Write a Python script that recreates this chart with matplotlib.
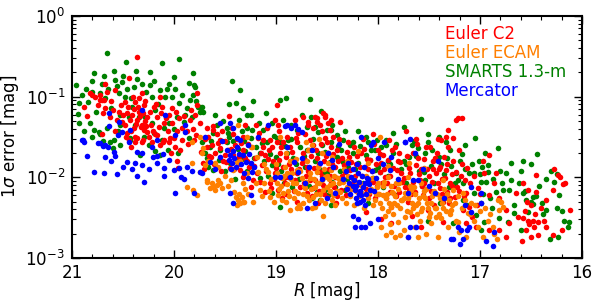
import matplotlib
matplotlib.use("Agg")
import matplotlib.pyplot as plt
from matplotlib.ticker import LogLocator, MultipleLocator, NullFormatter

# ---- data: (R magnitude, 1-sigma error in mag) ----
euler_c2 = [
(20.36,0.31),(20.68,0.144),(20.8,0.105),(20.44,0.17),(20.31,0.111),(20.73,0.091),(20.69,0.091),(20.58,0.12),
(20.48,0.086),(20.34,0.096),(20.29,0.079),(20.34,0.065),(20.46,0.063),(20.43,0.051),(20.48,0.045),(20.39,0.041),
(20.38,0.032),(20.29,0.039),(20.26,0.056),(20.24,0.065),(20.2,0.074),(20.17,0.056),(20.12,0.074),(20.14,0.099),
(20.02,0.072),(20.05,0.059),(20.1,0.047),(20.02,0.047),(19.95,0.054),(19.92,0.041),(19.97,0.037),(19.87,0.037),
(19.84,0.051),(19.77,0.111),(19.77,0.079),(19.79,0.059),(19.75,0.047),(20.31,0.045),(20.25,0.032),(20.19,0.034),
(20.1,0.029),(20.05,0.027),(20.0,0.031),(19.92,0.029),(19.8,0.029),(20.71,0.034),(20.73,0.105),(20.68,0.072),
(20.63,0.056),(20.54,0.065),(20.51,0.048),(20.58,0.037),(20.44,0.029),(20.31,0.027),(20.22,0.027),(20.77,0.099),
(20.66,0.114),(20.82,0.11),(20.46,0.035),(20.36,0.031),(20.3,0.029),(20.17,0.033),(20.11,0.027),(20.04,0.031),
(19.99,0.024),(20.14,0.025),(20.38,0.027),(19.97,0.016),(19.96,0.013),(20.4,0.1),(20.38,0.085),(20.35,0.075),
(20.33,0.058),(20.28,0.05),(20.27,0.043),(20.41,0.06),(20.39,0.07),(20.36,0.052),(20.32,0.042),(20.26,0.036),
(20.42,0.038),(20.71,0.091),(19.62,0.043),
(20.88,0.075),(20.85,0.058),(20.75,0.078),(20.7,0.062),(20.62,0.088),(20.6,0.068),(20.56,0.052),(20.52,0.078),
(20.5,0.059),(20.47,0.032),(20.45,0.075),(20.42,0.024),(20.37,0.046),(20.3,0.062),(20.28,0.088),(20.23,0.045),
(20.21,0.038),(20.18,0.082),(20.15,0.042),(20.13,0.062),(20.08,0.055),(20.06,0.038),(20.03,0.02),(19.98,0.065),
(19.94,0.022),(19.9,0.058),(19.86,0.026),(19.83,0.068),(19.81,0.04),(19.78,0.033),
(19.46,0.058),(19.68,0.041),(19.62,0.039),(19.53,0.037),(19.43,0.041),(19.42,0.034),(19.67,0.032),(19.55,0.029),
(19.32,0.032),(19.18,0.031),(19.13,0.029),(19.01,0.051),(18.98,0.045),(19.09,0.041),(19.06,0.029),(18.93,0.027),
(18.89,0.032),(18.99,0.079),(18.74,0.056),(18.69,0.049),(18.62,0.056),(18.6,0.049),(18.57,0.045),(18.52,0.056),
(18.49,0.047),(18.64,0.041),(18.55,0.037),(18.72,0.034),(18.67,0.029),(18.52,0.031),(18.5,0.027),(18.79,0.027),
(18.81,0.051),(18.69,0.045),(18.6,0.054),(18.52,0.06),
(19.68,0.024),(19.63,0.025),(19.6,0.02),(19.55,0.023),(19.72,0.015),(19.52,0.016),(19.5,0.019),(19.32,0.022),
(19.28,0.016),(19.35,0.0123),(19.32,0.0101),(19.25,0.0076),(19.19,0.0113),(19.11,0.0066),(19.06,0.0086),(19.01,0.0113),
(19.03,0.016),(19.04,0.024),(18.96,0.02),(18.93,0.0134),(18.91,0.0086),(18.98,0.007),(18.94,0.0055),(18.86,0.024),
(18.83,0.016),(18.79,0.0113),(18.76,0.0076),(18.74,0.02),(18.7,0.0134),(18.67,0.0093),(18.64,0.025),(18.6,0.0173),
(18.57,0.0117),(18.54,0.008),(18.49,0.02),(18.5,0.0057),(18.59,0.0048),(19.11,0.019),(19.14,0.0143),(19.23,0.0093),
(19.42,0.019),(19.4,0.025),(18.99,0.027),(18.88,0.0101),(18.79,0.005),(18.7,0.0064),(18.64,0.0074),
(18.46,0.024),(18.39,0.016),(18.42,0.0101),(18.36,0.007),(18.41,0.0048),(18.29,0.027),(18.27,0.0123),(18.25,0.0086),
(18.17,0.02),(18.13,0.0134),(18.12,0.0037),(18.07,0.0093),(18.03,0.0055),(18.0,0.022),(17.97,0.015),(17.93,0.0101),
(17.88,0.0066),(17.87,0.0043),(17.83,0.024),(17.8,0.016),(17.77,0.0113),(17.74,0.0076),(17.71,0.005),(17.67,0.0033),
(17.66,0.02),(17.63,0.0143),(17.59,0.0093),(17.56,0.006),(17.51,0.0039),(17.49,0.024),(17.46,0.016),(17.43,0.0113),
(17.39,0.0074),(17.36,0.005),(17.33,0.0123),(17.29,0.0086),(17.26,0.016),(17.25,0.0057),(17.36,0.0028),(17.58,0.0024),
(17.87,0.0027),(17.97,0.003),(17.38,0.029),(17.31,0.024),
(18.46,0.051),(18.37,0.048),(18.47,0.039),(18.44,0.032),(18.05,0.034),(17.63,0.03),(17.31,0.039),(17.41,0.03),
(17.33,0.032),(17.26,0.031),(17.24,0.051),(17.22,0.054),(17.18,0.055),(18.54,0.063),
(16.91,0.019),(16.97,0.016),(16.96,0.0113),(16.86,0.0086),(16.84,0.0113),(17.02,0.0074),(16.91,0.006),(16.81,0.0055),
(16.75,0.0039),(16.65,0.0064),(16.58,0.0086),(16.45,0.0107),(16.53,0.007),(16.45,0.0066),(16.35,0.0052),(16.28,0.007),
(16.27,0.0126),(16.22,0.0101),(16.19,0.0083),(16.12,0.0039),(16.2,0.0022),(16.28,0.0019),(16.37,0.0029),(16.35,0.0024),
(16.58,0.0031),(16.53,0.0029),(16.48,0.0029),(16.43,0.0028),(16.52,0.0026),(16.47,0.0024),(16.55,0.0022),(16.43,0.0019),
(16.5,0.0018),(16.59,0.0016),(16.63,0.0032),(16.72,0.0027),(16.81,0.0022),(16.75,0.0018),(16.91,0.0022),(17.04,0.0024),
(17.14,0.0027),(17.11,0.0043),(17.17,0.0039),(17.14,0.0064),(16.17,0.0086),(16.24,0.0107),(16.56,0.0038),(16.5,0.0045),
(16.46,0.0035),(16.54,0.005),(16.4,0.0042),
(19.2,0.045),(19.15,0.02),(19.08,0.017),(19.02,0.0095),(18.97,0.038),(18.9,0.018),(18.85,0.0125),(18.82,0.0068),
(18.78,0.035),(18.75,0.015),(18.71,0.0105),(18.68,0.022),(18.63,0.013),(18.58,0.0068),(18.56,0.026),(18.53,0.016),
(18.47,0.0105),(18.45,0.0145),(18.43,0.0075),(18.4,0.022),(18.38,0.03),(18.35,0.0105),(18.33,0.0142),(18.31,0.006),
(18.28,0.018),(18.24,0.024),(18.22,0.0145),(18.2,0.0065),(18.16,0.0105),(18.15,0.03),(18.11,0.017),(18.09,0.0062),
(18.06,0.012),(18.04,0.026),(18.01,0.0078),(17.98,0.0115),(17.95,0.019),(17.91,0.0085),(17.89,0.029),(17.85,0.013),
(17.82,0.0058),(17.79,0.02),(17.76,0.0088),(17.73,0.038),(17.7,0.013),(17.68,0.0062),(17.65,0.0045),(17.62,0.026),
(17.6,0.011),(17.57,0.0078),(17.55,0.017),(17.52,0.0128),(17.5,0.0055),(17.47,0.0088),(17.45,0.0045),(17.42,0.02),
(17.4,0.0125),(17.37,0.0095),(17.35,0.018),(17.32,0.0065),(17.3,0.0048),(17.27,0.011),(17.23,0.0075),(17.21,0.022),
(17.19,0.0105),(17.16,0.0058),(17.13,0.013),(17.1,0.0085),(17.08,0.0032),(17.06,0.0105),(17.03,0.0045),(17.0,0.0062),
(19.7,0.03),(19.64,0.018),(19.58,0.034),(19.5,0.028),(19.47,0.022),(19.45,0.013),(19.38,0.03),(19.36,0.018),
(19.3,0.045),(19.27,0.026),(19.22,0.014),(19.17,0.035),
(19.26,0.0135),(19.21,0.0175),(19.16,0.0088),(19.13,0.024),(19.1,0.0118),(19.07,0.0215),(19.05,0.0074),(19.0,0.0132),
(18.97,0.0165),(18.95,0.0235),(18.92,0.0098),(18.9,0.0062),(18.87,0.0148),(18.84,0.0205),(18.81,0.0092),(18.8,0.0305),
(18.77,0.0125),(18.73,0.0086),(18.72,0.0165),(18.69,0.0118),(18.66,0.0185),(18.65,0.0058),(18.62,0.0092),(18.61,0.0215),
(18.58,0.0145),(18.55,0.0105),(18.53,0.0062),(18.51,0.0185),(18.48,0.0128),(18.46,0.0085),(18.44,0.0195),(18.42,0.0135),
(18.4,0.0058),(18.37,0.0088),(18.35,0.0175),(18.32,0.0115),(18.3,0.0205),(18.28,0.0078),(18.26,0.0155),(18.23,0.0105),
(18.21,0.0185),(18.19,0.0082),(18.18,0.0135),(18.14,0.0225),(18.12,0.0072),(18.1,0.0125),(18.08,0.0165),(18.05,0.0088),
(18.02,0.0145),(18.0,0.0062),(17.98,0.0195),(17.96,0.0085),(17.94,0.0128),(17.92,0.0055),(17.9,0.0165),(17.88,0.0105),
(17.86,0.0215),(17.84,0.0078),(17.81,0.0122),(17.79,0.0065),(17.78,0.0155),(17.75,0.0098),(17.72,0.0185),(17.7,0.0072),
(17.69,0.0112),(17.66,0.0088),(17.64,0.0065),(17.61,0.0175),(17.58,0.0125),(17.55,0.0085),(17.53,0.0235),(17.5,0.0105),
(17.48,0.0068),(17.46,0.0125),(17.44,0.0175),(17.41,0.0085),(17.39,0.0135),(17.37,0.0062),(17.34,0.0098),(17.32,0.0148),
(17.29,0.0055),(17.27,0.0078),(17.24,0.0115),(17.21,0.0068),(17.18,0.0145),(17.15,0.0092),
(19.74,0.0205),(19.71,0.0125),(19.66,0.0185),(19.61,0.0145),(19.57,0.0265),(19.54,0.0118),(19.49,0.0155),(19.44,0.0225),
(19.41,0.0128),(19.37,0.0145),(19.34,0.0265),(19.3,0.0175),
]

euler_ecam = [
(19.75,0.032),(19.72,0.023),(19.73,0.02),(19.67,0.016),(19.7,0.0143),(19.6,0.015),(19.57,0.0134),(19.68,0.0087),
(19.65,0.0074),(19.62,0.0076),(19.58,0.008),(19.55,0.0086),(19.53,0.0074),(19.6,0.007),(19.63,0.0086),(19.57,0.0093),
(19.39,0.0057),(19.37,0.0052),(19.35,0.0048),(19.32,0.005),(19.38,0.0045),(19.42,0.0123),(19.35,0.016),(19.32,0.0086),
(19.28,0.0113),(19.23,0.005),(19.25,0.024),(19.19,0.0178),(19.16,0.007),(18.89,0.0113),(18.86,0.016),(18.83,0.0086),
(18.79,0.0123),(18.78,0.0064),(18.75,0.0098),(18.74,0.0048),(18.72,0.0074),(18.7,0.016),(18.69,0.022),(18.67,0.0113),
(18.64,0.0057),(18.62,0.0043),(18.6,0.0086),(18.59,0.0134),(18.55,0.02),(18.54,0.007),(18.52,0.0101),(18.49,0.015),
(18.86,0.0039),(18.54,0.0033),(18.76,0.0042),(18.94,0.0098),(18.93,0.0064),(18.99,0.0086),(19.06,0.0057),(19.08,0.0117),
(18.49,0.02),(18.46,0.0123),(18.47,0.008),(18.44,0.006),(18.0,0.0086),(17.95,0.006),(17.93,0.0033),(17.88,0.0026),
(17.83,0.0018),(17.87,0.0043),(17.8,0.0028),(17.77,0.0052),(17.75,0.0022),(17.71,0.0101),(17.69,0.0037),(17.68,0.007),
(17.64,0.0024),(17.63,0.0045),(17.59,0.0029),(17.58,0.0086),(17.54,0.0055),(17.53,0.002),(17.49,0.0036),(17.48,0.0027),
(17.46,0.0064),(17.43,0.0042),(17.41,0.0018),(17.38,0.0031),(17.36,0.0093),(17.34,0.0055),(17.31,0.0024),(17.28,0.0039),
(17.26,0.007),(17.24,0.0029),(17.9,0.0101),(17.82,0.0086),(17.85,0.0064),(17.74,0.0064),(17.97,0.0024),(17.92,0.0019),
(17.78,0.0019),(17.71,0.0018),(17.61,0.0018),(17.87,0.0021),
(17.22,0.0028),(17.21,0.0021),(17.14,0.0018),(17.12,0.0036),(17.06,0.0029),(17.02,0.0024),(16.97,0.0018),(16.92,0.0029),
(16.82,0.0052),(16.79,0.005),(16.77,0.0043),(16.81,0.0039),(16.87,0.0024),(17.09,0.0048),(17.17,0.0064),(16.86,0.002),
(16.83,0.0017),
(19.87,0.0076),(19.77,0.006),(19.81,0.007),(19.82,0.015),(19.75,0.0117),(19.68,0.0093),(19.82,0.027),(19.33,0.0057),
(19.31,0.005),(19.36,0.0062),(19.38,0.0155),(19.24,0.024),(18.96,0.032),(18.71,0.027),(19.37,0.045),(19.28,0.032),
(17.98,0.032),
(19.12,0.0085),(19.1,0.0125),(19.07,0.0068),(19.05,0.0095),(19.02,0.005),(19.0,0.0145),(18.98,0.006),(18.95,0.0078),
(18.92,0.0105),(18.9,0.005),(18.88,0.0068),(18.85,0.0095),(18.82,0.0055),(18.8,0.0085),(18.77,0.0045),(18.74,0.0062),
(18.71,0.0088),(18.68,0.0052),(18.66,0.0072),(18.63,0.0095),(18.61,0.0062),(18.58,0.0085),(18.56,0.0052),(18.53,0.0125),
(18.5,0.0075),(18.48,0.0095),(18.45,0.0052),(18.43,0.0105),(18.4,0.0068),(18.38,0.0085),(18.35,0.0055),(18.33,0.0125),
(18.3,0.0075),(18.27,0.0058),(18.25,0.0095),(18.22,0.0068),(18.2,0.0048),(18.18,0.0085),(18.15,0.0062),(18.12,0.0105),
(18.1,0.0055),(18.07,0.0072),(18.05,0.0045),(18.02,0.0062),(17.98,0.0048),(17.95,0.0078),(17.92,0.0055),(17.9,0.0038),
(17.86,0.0065),(17.84,0.0048),(17.8,0.0072),(17.78,0.0042),(17.75,0.0055),(17.72,0.0038),(17.7,0.0062),(17.67,0.0048),
(17.65,0.0075),(17.62,0.0035),(17.6,0.0055),(17.57,0.0042),(17.55,0.0068),(17.52,0.0048),(17.5,0.0032),(17.47,0.0058),
(17.44,0.0042),(17.42,0.0062),(17.4,0.0035),(17.37,0.0048),(17.35,0.0072),(17.33,0.0038),(17.3,0.0052),(17.27,0.0045),
(17.22,0.0058),(17.18,0.0042),(17.15,0.0052),(17.1,0.0035),(17.05,0.0045),(17.0,0.0038),(16.95,0.0042),(16.9,0.0035),
(18.9,0.02),(18.8,0.017),(18.65,0.025),(18.45,0.018),(18.3,0.016),(18.1,0.015),(17.9,0.014),(17.7,0.015),
(17.55,0.013),(18.2,0.021),(18.58,0.03),
(18.99,0.0112),(18.97,0.0072),(18.94,0.0052),(18.91,0.0135),(18.89,0.0082),(18.87,0.0058),(18.84,0.0112),(18.81,0.0068),
(18.79,0.0042),(18.76,0.0118),(18.73,0.0078),(18.7,0.0058),(18.67,0.0098),(18.65,0.0042),(18.62,0.0075),(18.6,0.0115),
(18.57,0.0062),(18.55,0.0092),(18.52,0.0048),(18.5,0.0105),(18.47,0.0068),(18.44,0.0085),(18.42,0.0045),(18.39,0.0098),
(18.37,0.0065),(18.34,0.0088),(18.31,0.0048),(18.29,0.0105),(18.26,0.0072),(18.24,0.0045),(18.21,0.0088),(18.19,0.0058),
(18.16,0.0078),(18.14,0.0042),(18.11,0.0085),(18.09,0.0065),(18.06,0.0098),(18.03,0.0052),(18.01,0.0075),(17.99,0.0062),
(17.96,0.0042),(17.94,0.0088),(17.91,0.0062),(17.89,0.0048),(17.87,0.0078),(17.85,0.0035),(17.83,0.0058),(17.81,0.0045),
(17.79,0.0085),(17.76,0.0052),(17.74,0.0032),(17.71,0.0055),(17.69,0.0078),(17.66,0.0042),(17.64,0.0062),(17.61,0.0048),
(17.58,0.0038),(17.56,0.0058),(17.53,0.0072),(17.51,0.0042),(17.48,0.0048),(17.45,0.0068),(17.43,0.0032),(17.39,0.0055),
(17.36,0.0042),(17.32,0.0062),(17.29,0.0035),(17.25,0.0048),
(19.5,0.0105),(19.47,0.0078),(19.44,0.0092),(19.41,0.0065),(19.3,0.0072),(19.27,0.0062),(19.2,0.0085),(19.18,0.0115),
(19.14,0.0058),(19.12,0.0145),
]

smarts = [
(20.66,0.35),(20.96,0.14),(20.93,0.083),(20.94,0.061),(20.93,0.047),(20.78,0.196),(20.8,0.156),(20.69,0.18),
(20.59,0.21),(20.47,0.27),(20.5,0.18),(20.58,0.16),(20.51,0.15),(20.37,0.21),(20.24,0.2),(20.12,0.26),
(19.95,0.29),(20.0,0.175),(20.05,0.144),(19.85,0.148),(19.8,0.14),(20.8,0.115),(20.73,0.11),(20.68,0.096),
(20.54,0.11),(20.48,0.099),(20.39,0.132),(20.41,0.074),(20.34,0.056),(20.24,0.14),(20.22,0.099),(20.14,0.12),
(20.09,0.099),(20.02,0.099),(19.95,0.083),(19.87,0.072),(19.82,0.056),(19.75,0.074),(20.82,0.047),(20.78,0.039),
(20.74,0.036),(20.66,0.041),(20.53,0.059),(20.53,0.045),(20.44,0.056),(20.28,0.056),(20.22,0.047),(20.19,0.068),
(20.1,0.041),(20.05,0.047),(19.97,0.056),(19.9,0.049),(19.89,0.059),(20.59,0.029),(20.43,0.031),(20.29,0.032),
(20.12,0.029),(20.73,0.034),(20.63,0.027),(20.53,0.025),(20.43,0.029),(20.25,0.025),(20.33,0.019),(20.19,0.021),
(20.14,0.019),(20.06,0.022),(19.96,0.02),(20.6,0.023),(19.81,0.196),(19.79,0.13),(19.81,0.105),(19.76,0.074),
(19.75,0.065),
(20.9,0.105),(20.86,0.125),(20.84,0.085),(20.76,0.065),(20.71,0.145),(20.65,0.125),(20.62,0.072),(20.56,0.135),
(20.46,0.125),(20.42,0.095),(20.36,0.165),(20.31,0.145),(20.27,0.115),(20.2,0.155),(20.16,0.082),(20.07,0.125),
(19.99,0.125),(19.92,0.105),(19.84,0.092),(19.78,0.088),(20.88,0.038),(20.8,0.032),(20.7,0.028),(20.55,0.038),
(20.38,0.045),(20.2,0.035),(20.0,0.04),(19.85,0.031),
(19.43,0.156),(19.35,0.12),(19.46,0.081),(19.39,0.083),(19.32,0.072),(19.23,0.088),(19.25,0.059),(18.96,0.091),
(18.9,0.096),(18.67,0.093),(18.56,0.066),(19.73,0.074),(19.72,0.065),(19.36,0.051),(19.17,0.047),(19.04,0.047),
(19.48,0.041),(19.28,0.041),(19.24,0.039),(19.33,0.037),(19.13,0.039),(19.46,0.032),(19.25,0.031),(18.99,0.031),
(18.88,0.029),(18.7,0.042),(18.66,0.056),(18.59,0.036),(18.5,0.039),
(17.58,0.053),(18.32,0.038),(18.34,0.029),(18.25,0.027),(18.12,0.032),(18.01,0.029),(17.92,0.029),(17.51,0.034),
(18.46,0.039),(17.05,0.031),(16.82,0.023),(16.44,0.0195),
(17.01,0.016),(16.98,0.0135),(16.92,0.0143),(17.11,0.0113),(17.06,0.0113),(16.92,0.0117),(16.94,0.0087),(16.99,0.0087),
(16.84,0.0066),(16.77,0.007),(16.72,0.007),(16.58,0.0064),(16.55,0.0052),(16.5,0.005),(16.48,0.0047),(16.48,0.0057),
(16.53,0.0037),(16.67,0.0036),(16.67,0.0045),(16.39,0.0048),(16.35,0.0039),(16.27,0.0087),(16.23,0.006),(16.25,0.0042),
(16.18,0.0029),(16.13,0.0028),(16.14,0.0024),(16.31,0.0017),(16.24,0.0018),(16.6,0.0022),(16.73,0.0028),(16.96,0.0028),
(16.99,0.0022),(17.22,0.0093),(17.17,0.0086),(17.17,0.0052),(17.04,0.0034),(16.81,0.0031),(16.99,0.0048),(17.06,0.0064),
(16.75,0.0113),(16.7,0.0093),(16.58,0.016),
(19.73,0.027),(19.65,0.024),(19.68,0.0173),(19.48,0.027),(19.45,0.015),(19.38,0.016),(19.3,0.021),(19.23,0.0134),
(19.16,0.02),(19.09,0.027),(19.04,0.0143),(18.96,0.027),(18.89,0.02),(18.84,0.0076),(18.76,0.024),(18.72,0.0134),
(18.65,0.0055),(18.6,0.0066),(18.57,0.0052),(18.52,0.007),(18.49,0.006),(19.62,0.0123),(19.67,0.0134),(19.16,0.0098),
(19.04,0.0064),(18.96,0.0043),(18.54,0.0113),(18.59,0.02),
(18.46,0.027),(18.36,0.022),(18.25,0.02),(18.1,0.027),(18.07,0.022),(17.97,0.024),(17.92,0.025),(17.67,0.025),
(17.61,0.023),(17.54,0.02),(17.51,0.027),(17.33,0.027),(17.29,0.022),(18.42,0.0076),(18.46,0.0045),(18.32,0.007),
(18.17,0.0064),(18.03,0.0123),(17.83,0.006),(17.73,0.0086),(17.54,0.0093),(17.39,0.0048),(17.24,0.0113),(17.26,0.0027),
(17.51,0.0029),(18.1,0.0048),(18.29,0.0134),(17.75,0.016),(17.9,0.016),
(19.55,0.022),(19.5,0.012),(19.42,0.028),(19.4,0.0095),(19.33,0.017),(19.28,0.012),(19.2,0.024),(19.12,0.016),
(19.08,0.0105),(19.0,0.018),(18.95,0.012),(18.92,0.0085),(18.85,0.03),(18.8,0.0145),(18.77,0.0095),(18.7,0.022),
(18.68,0.0078),(18.62,0.016),(18.55,0.025),(18.5,0.0115),(18.45,0.0088),(18.4,0.018),(18.37,0.012),(18.3,0.0095),
(18.27,0.025),(18.2,0.015),(18.15,0.0085),(18.12,0.019),(18.05,0.0098),(18.0,0.0135),(17.95,0.0075),(17.9,0.0105),
(17.85,0.02),(17.8,0.0085),(17.77,0.0125),(17.7,0.018),(17.68,0.0068),(17.6,0.012),(17.57,0.0078),(17.48,0.014),
(17.45,0.0085),(17.4,0.018),(17.35,0.011),(17.3,0.0075),(17.28,0.014),(17.2,0.016),(17.15,0.0125),(17.13,0.0045),
(17.0,0.011),(16.9,0.0055),(16.88,0.0042),(16.8,0.012),(16.62,0.0085),(16.56,0.0068),(16.45,0.0058),(16.42,0.0078),
(16.38,0.0035),(16.3,0.012),(16.2,0.0038),
(19.6,0.06),(19.58,0.045),(19.52,0.05),(19.62,0.035),(19.28,0.06),(19.1,0.062),(18.93,0.052),(18.85,0.045),
(18.75,0.06),(18.62,0.042),(18.45,0.045),(18.4,0.033),(18.2,0.038),(17.85,0.035),(17.75,0.042),(17.65,0.028),
(17.4,0.032),(17.15,0.025),(16.95,0.02),(16.7,0.015),(16.6,0.012),(16.5,0.0145),(16.35,0.0095),(16.25,0.011),
(19.7,0.02),(19.64,0.028),(19.56,0.0165),(19.47,0.0355),(19.37,0.0225),(19.31,0.0285),(19.22,0.0175),(19.14,0.0265),
(19.06,0.0195),(19.02,0.0325),(18.98,0.0145),(18.91,0.0245),(18.83,0.0175),(18.79,0.0385),(18.73,0.0185),(18.64,0.0295),
(18.58,0.0125),(18.52,0.0205),(18.47,0.0155),(18.39,0.0245),(18.34,0.0155),(18.23,0.0125),(18.18,0.0245),(18.08,0.0165),
(18.03,0.0215),(17.98,0.0115),(17.88,0.0145),(17.82,0.0255),(17.73,0.0145),(17.63,0.0185),(17.55,0.0115),(17.47,0.0215),
(17.38,0.0145),(17.32,0.0175),(17.25,0.0085),(17.18,0.0195),(17.08,0.0145),(16.97,0.0062),(16.87,0.0095),(16.78,0.0085),
]

mercator = [
(20.89,0.029),(20.85,0.0184),(20.78,0.0117),(20.69,0.0113),(20.75,0.0266),(20.68,0.025),(20.56,0.011),(20.46,0.0155),
(20.41,0.0127),(20.36,0.0104),(20.38,0.0151),(20.31,0.0142),(20.29,0.0087),(20.21,0.0178),(20.17,0.0151),(20.1,0.0131),
(20.1,0.0104),(19.99,0.0064),(20.0,0.0124),(19.95,0.013),(19.93,0.0101),(19.87,0.0134),(19.82,0.0119),(19.8,0.0064),
(19.75,0.0117),(20.88,0.0275),(20.73,0.0266),(20.7,0.0244),(20.65,0.0238),(20.59,0.0206),(20.58,0.0184),(20.68,0.0178),
(20.44,0.0275),(20.36,0.0206),(20.31,0.02),(20.22,0.0238),(20.17,0.0184),(20.11,0.0194),
(20.9,0.029),(20.64,0.063),(20.64,0.043),(20.54,0.048),(20.55,0.033),(20.51,0.036),(20.43,0.039),(20.31,0.068),
(20.17,0.029),(20.09,0.059),(19.99,0.033),(19.89,0.045),(19.89,0.036),
(19.55,0.047),(19.42,0.041),(19.35,0.029),(19.08,0.045),(18.89,0.045),(18.81,0.045),(19.45,0.047),(19.38,0.031),
(19.53,0.028),(19.7,0.032),(19.18,0.032),(18.91,0.043),(18.85,0.041),(18.78,0.04),(18.75,0.036),
(18.17,0.032),(18.05,0.027),(17.94,0.027),(17.74,0.027),(17.69,0.03),
(19.73,0.0113),(19.55,0.018),(19.45,0.019),(19.43,0.015),(19.42,0.021),(19.38,0.024),(19.32,0.019),(19.27,0.025),
(19.25,0.015),(19.24,0.0117),(19.27,0.0098),(19.45,0.0064),(19.42,0.0048),(19.25,0.006),(18.89,0.024),(18.96,0.0101),
(18.86,0.0101),(18.75,0.0173),(18.65,0.022),(18.62,0.0048),(18.57,0.015),(18.5,0.0055),(18.7,0.0042),(19.01,0.0101),
(18.49,0.02),(18.44,0.0134),(18.42,0.0064),(18.29,0.015),(18.26,0.0101),(18.23,0.007),(18.22,0.0055),(18.18,0.005),
(18.17,0.006),(18.13,0.0045),(18.13,0.0086),(18.08,0.007),(18.2,0.0113),(18.07,0.025),(18.0,0.0173),(17.87,0.018),
(17.88,0.0123),(17.74,0.027),(17.66,0.0093),(17.61,0.0093),(17.71,0.0064),(17.44,0.0064),(17.41,0.016),(17.64,0.02),
(18.25,0.0033),(18.08,0.0027),(18.23,0.0024),(18.17,0.0024),(18.13,0.0024),(18.2,0.003),(18.0,0.003),(17.69,0.0024),
(17.71,0.0018),(17.63,0.0024),(17.28,0.0017),(17.26,0.0017),(17.2,0.0015),(17.13,0.0022),(17.22,0.0024),
(17.19,0.0022),(17.11,0.0024),(17.17,0.0017),(16.94,0.0016),(16.87,0.0014),(16.86,0.0021),(16.99,0.0048),(16.99,0.0064),
(17.09,0.0076),(17.09,0.0037),(18.21,0.0048),(18.15,0.0052),(18.19,0.0062),(18.25,0.0078),(18.1,0.0095),
(18.34,0.0095),(18.31,0.0118),(18.3,0.0072),(18.28,0.0085),(18.27,0.0062),(18.25,0.0125),(18.24,0.0092),(18.22,0.0078),
(18.21,0.0145),(18.19,0.0088),(18.18,0.0068),(18.16,0.0105),(18.15,0.0075),(18.14,0.0135),(18.12,0.0062),(18.11,0.0098),
(18.09,0.0082),(18.06,0.0118),(18.04,0.0068),(18.02,0.0098),
(19.48,0.0215),(19.46,0.0165),(19.44,0.0125),(19.41,0.0175),(19.39,0.0135),(19.36,0.0195),(19.34,0.0145),(19.31,0.0112),
(19.29,0.0155),(19.26,0.0195),(19.22,0.0135),
(18.82,0.0155),(18.78,0.0115),(18.72,0.0085),(18.68,0.0135),(18.55,0.0095),(18.45,0.0165),(18.38,0.0255),(17.95,0.0145),
(17.8,0.0095),(17.56,0.0125),(17.5,0.0078),(17.35,0.0055),(17.15,0.0045),
(19.65,0.0155),(19.6,0.0125),(19.9,0.0095),(20.05,0.0165),(20.25,0.0125),(20.5,0.0135),(20.62,0.016),
]

series = [
    ("SMARTS 1.3-m", smarts, "#008000"),
    ("Euler C2", euler_c2, "#ff0000"),
    ("Euler ECAM", euler_ecam, "#ff7f00"),
    ("Mercator", mercator, "#0000ff"),
]
legend_order = ["Euler C2", "Euler ECAM", "SMARTS 1.3-m", "Mercator"]
legend_colors = {"Euler C2": "#ff0000", "Euler ECAM": "#ff7f00",
                 "SMARTS 1.3-m": "#008000", "Mercator": "#0000ff"}

fig = plt.figure(figsize=(6.0, 3.01), dpi=100)
ax = fig.add_axes([0.12, 0.143, 0.85, 0.804])

for name, pts, col in series:
    r = [p[0] for p in pts]
    e = [p[1] for p in pts]
    ax.scatter(r, e, s=16, c=col, linewidths=0, zorder=2)

ax.set_yscale("log")
ax.set_xlim(21, 16)
ax.set_ylim(1e-3, 1)
ax.xaxis.set_major_locator(MultipleLocator(1))
ax.xaxis.set_minor_locator(MultipleLocator(0.2))
ax.yaxis.set_minor_locator(LogLocator(base=10, subs=range(2, 10)))
ax.yaxis.set_minor_formatter(NullFormatter())

ax.tick_params(which="both", direction="in", top=True, right=True, labelsize=12)
ax.tick_params(axis="x", which="major", pad=4)
ax.tick_params(axis="y", which="major", pad=5)
ax.tick_params(which="major", length=6, width=1)
ax.tick_params(which="minor", length=3, width=0.8)
for s in ax.spines.values():
    s.set_linewidth(1.5)

ax.set_xlabel(r"$R$ [mag]", fontsize=12, labelpad=-1)
ax.set_ylabel(r"$1\sigma$ error [mag]", fontsize=12, labelpad=3)

ys = [0.926, 0.847, 0.769, 0.690]
for name, y in zip(legend_order, ys):
    ax.text(0.731, y, name, color=legend_colors[name], fontsize=12,
            transform=ax.transAxes, ha="left", va="center")

fig.savefig("out.png", dpi=100)
